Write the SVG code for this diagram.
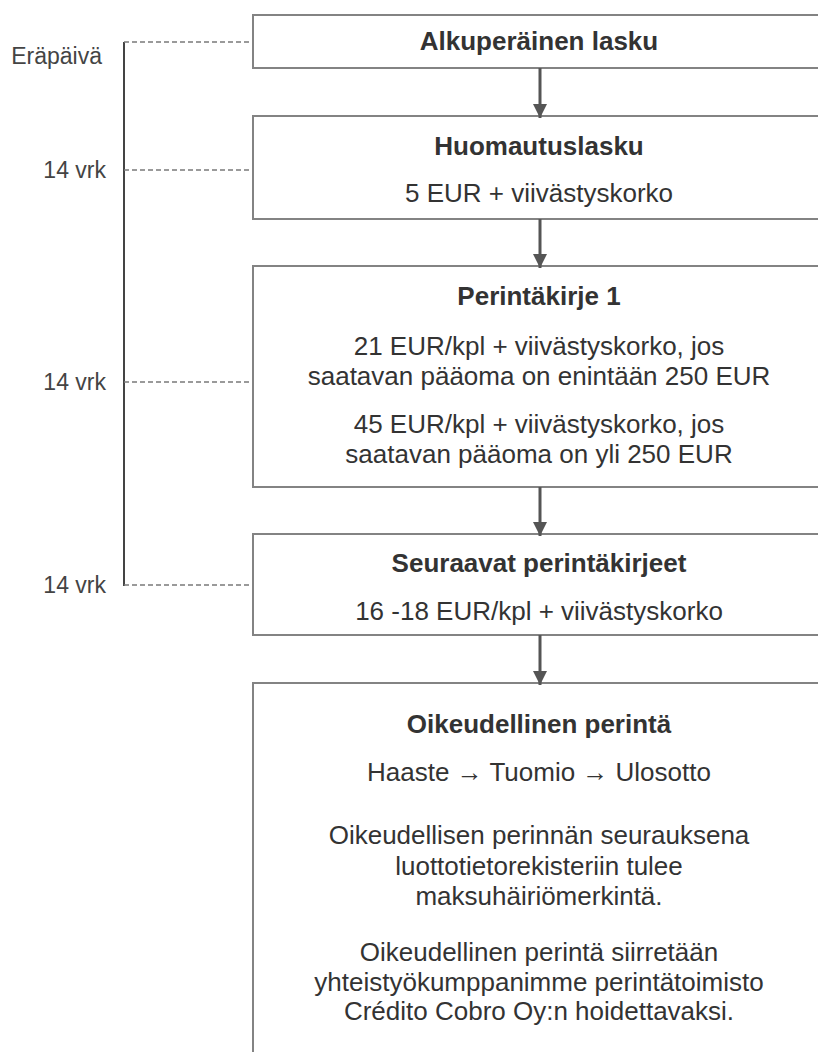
<svg xmlns="http://www.w3.org/2000/svg" width="818" height="1052" viewBox="0 0 818 1052">
<defs>
<style>
.box{fill:#fff;stroke:#838383;stroke-width:2}
.t{font-family:"Liberation Sans",Arial,sans-serif;font-size:26px;fill:#333;text-anchor:middle}
.b{font-weight:bold}
.lbl{font-family:"Liberation Sans",Arial,sans-serif;font-size:23px;fill:#444;text-anchor:end}
.flow{stroke:#555;stroke-width:3;fill:none}
.dash{stroke:#7a7a7a;stroke-width:1.5;stroke-dasharray:5 3;fill:none}
.axis{stroke:#444;stroke-width:2;fill:none}
</style>
<marker id="ah" markerUnits="userSpaceOnUse" markerWidth="14" markerHeight="14" viewBox="0 0 14 14" refX="14" refY="7" orient="auto">
<path d="M0,0 L14,7 L0,14 Z" fill="#555"/>
</marker>
</defs>
<rect width="818" height="1052" fill="#fff"/>

<g id="timeline">
<line class="axis" x1="124" y1="42" x2="124" y2="586"/>
<line class="dash" x1="124" y1="42" x2="253" y2="42"/>
<line class="dash" x1="124" y1="170" x2="253" y2="170"/>
<line class="dash" x1="124" y1="382" x2="253" y2="382"/>
<line class="dash" x1="124" y1="585" x2="253" y2="585"/>
<text class="lbl" x="102" y="64">Eräpäivä</text>
<text class="lbl" x="106" y="178">14 vrk</text>
<text class="lbl" x="106" y="390">14 vrk</text>
<text class="lbl" x="106" y="593">14 vrk</text>
</g>

<g id="n1">
<rect class="box" x="253" y="15" width="600" height="53"/>
<text class="t b" x="539" y="50">Alkuperäinen lasku</text>
</g>

<g id="n2">
<rect class="box" x="253" y="116" width="600" height="103"/>
<text class="t b" x="539" y="155">Huomautuslasku</text>
<text class="t" x="539" y="202">5 EUR + viivästyskorko</text>
</g>

<g id="n3">
<rect class="box" x="253" y="266" width="600" height="221"/>
<text class="t b" x="539" y="305">Perintäkirje 1</text>
<text class="t" x="539" y="355">21 EUR/kpl + viivästyskorko, jos</text>
<text class="t" x="539" y="385">saatavan pääoma on enintään 250 EUR</text>
<text class="t" x="539" y="433">45 EUR/kpl + viivästyskorko, jos</text>
<text class="t" x="539" y="463">saatavan pääoma on yli 250 EUR</text>
</g>

<g id="n4">
<rect class="box" x="253" y="534" width="600" height="101"/>
<text class="t b" x="539" y="572">Seuraavat perintäkirjeet</text>
<text class="t" x="539" y="620">16 -18 EUR/kpl + viivästyskorko</text>
</g>

<g id="n5">
<rect class="box" x="253" y="683" width="600" height="420"/>
<text class="t b" x="539" y="733">Oikeudellinen perintä</text>
<text class="t" x="539" y="781">Haaste → Tuomio → Ulosotto</text>
<text class="t" x="539" y="844">Oikeudellisen perinnän seurauksena</text>
<text class="t" x="539" y="875">luottotietorekisteriin tulee</text>
<text class="t" x="539" y="905">maksuhäiriömerkintä.</text>
<text class="t" x="539" y="961">Oikeudellinen perintä siirretään</text>
<text class="t" x="539" y="991">yhteistyökumppanimme perintätoimisto</text>
<text class="t" x="539" y="1020">Crédito Cobro Oy:n hoidettavaksi.</text>
</g>

<g id="connectors">
<line class="flow" x1="540" y1="68" x2="540" y2="118" marker-end="url(#ah)"/>
<line class="flow" x1="540" y1="219" x2="540" y2="268" marker-end="url(#ah)"/>
<line class="flow" x1="540" y1="487" x2="540" y2="536" marker-end="url(#ah)"/>
<line class="flow" x1="540" y1="635" x2="540" y2="685" marker-end="url(#ah)"/>
</g>
</svg>
